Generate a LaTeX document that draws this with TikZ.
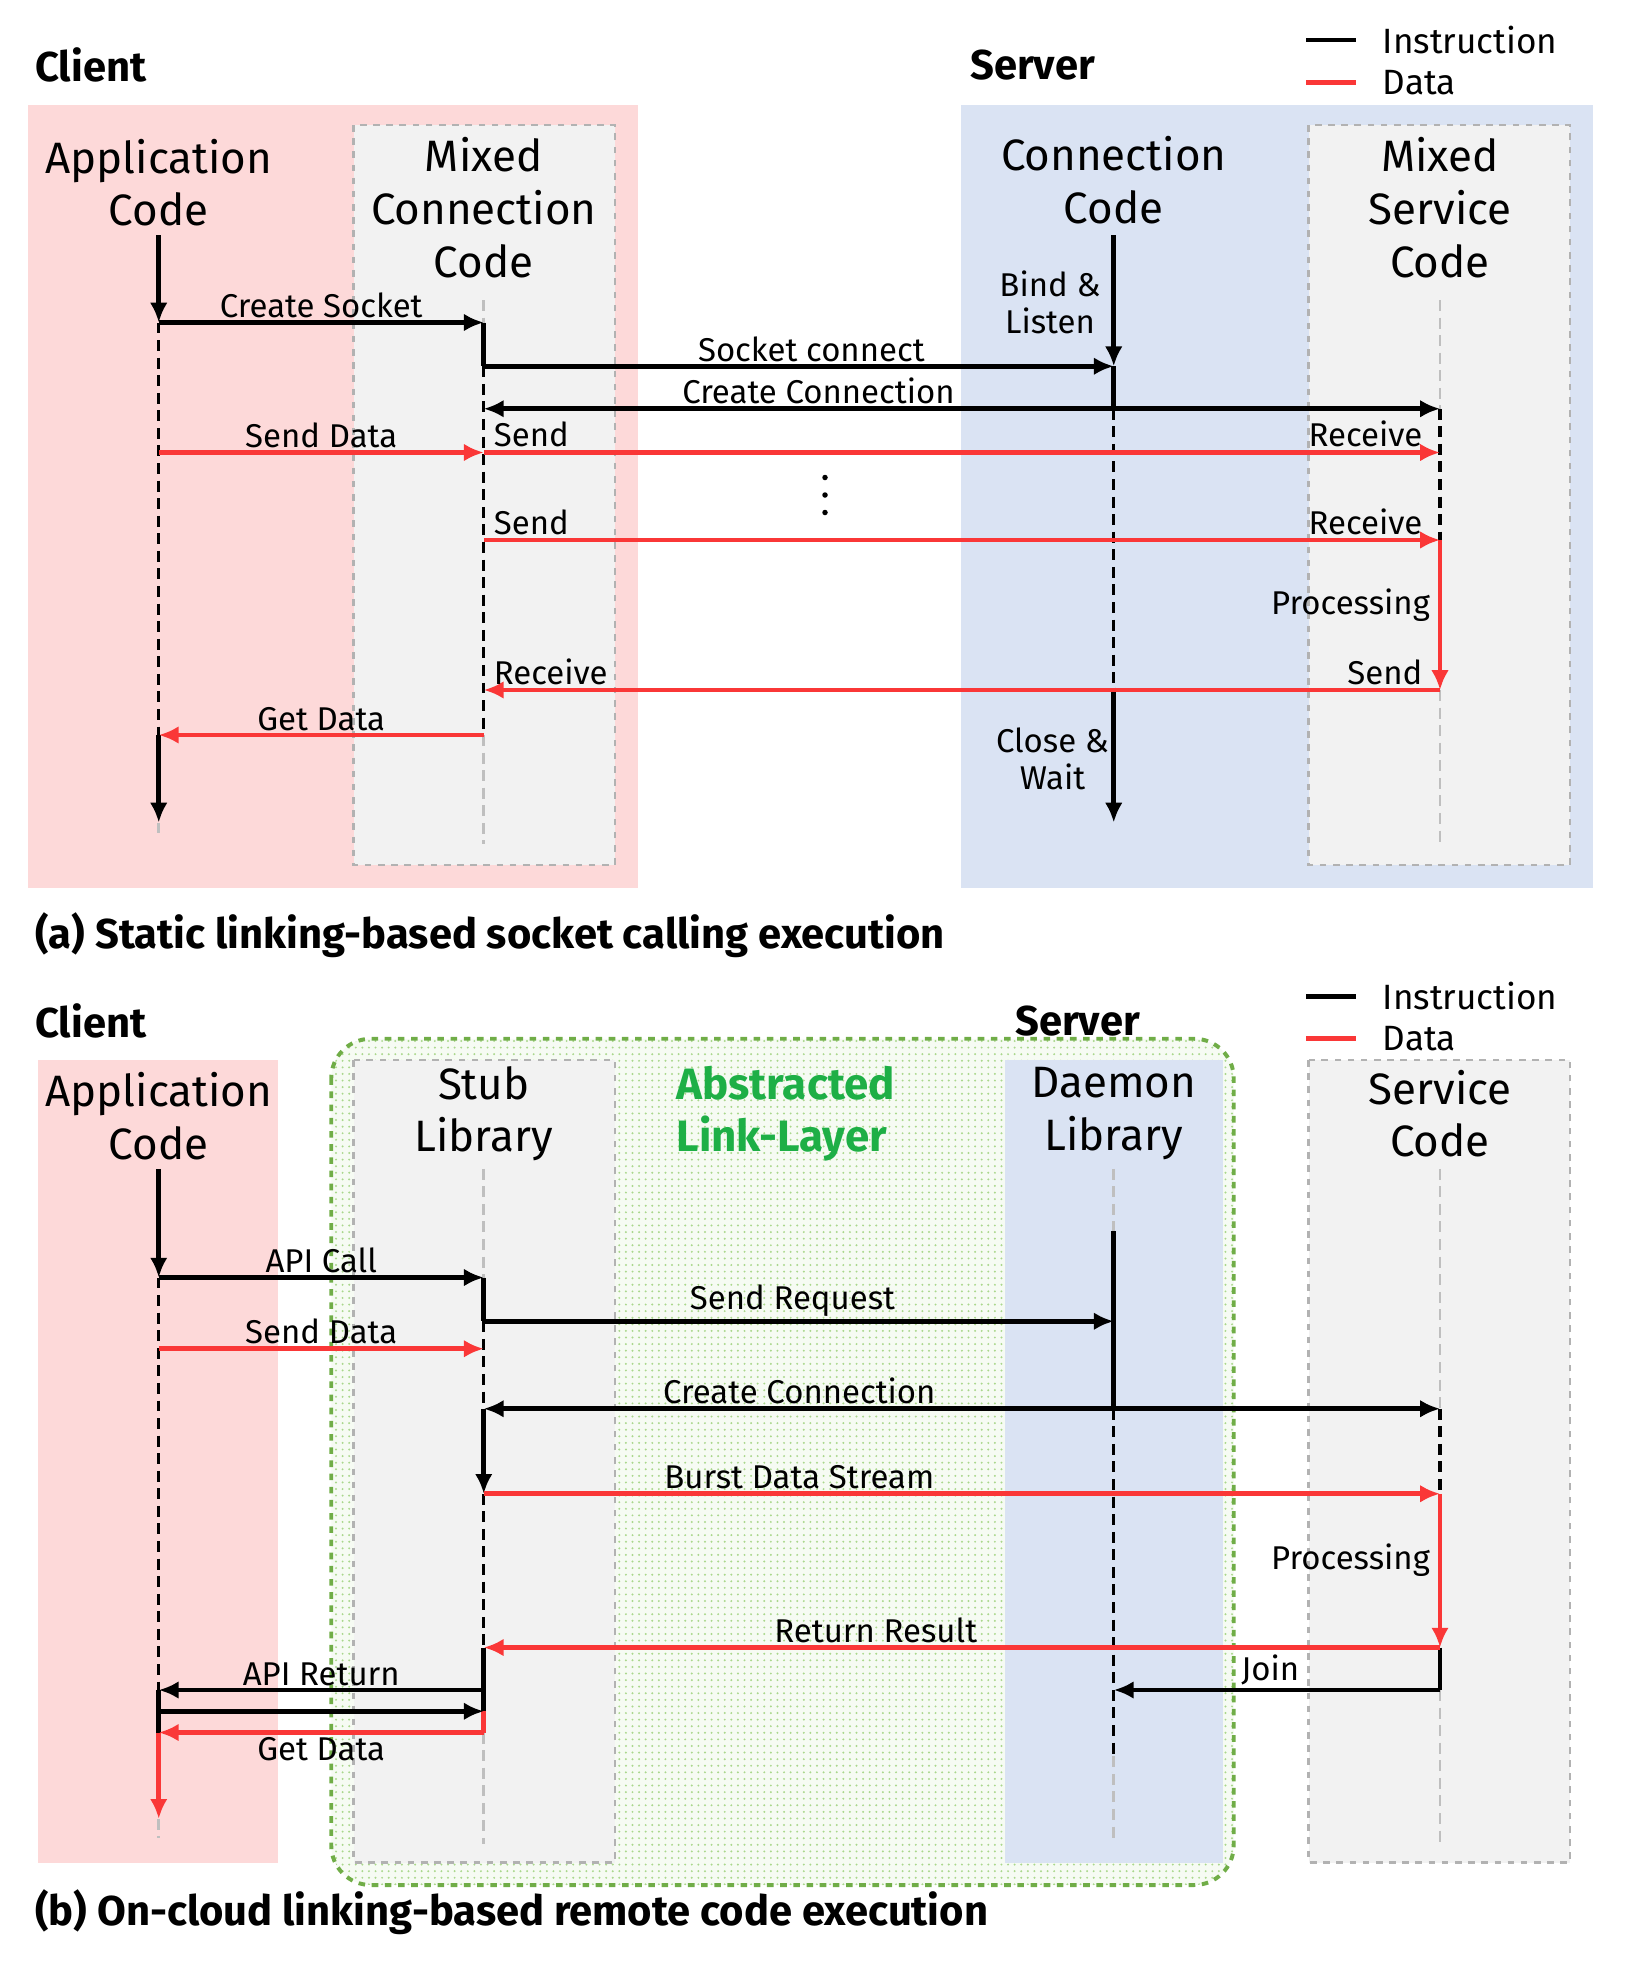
\documentclass[tikz,border=0pt]{standalone}
\usepackage{fontspec}
\setmainfont{Fira Sans}
\usetikzlibrary{arrows.meta,patterns}
\definecolor{clientpink}{RGB}{253,217,217}
\definecolor{serverblue}{RGB}{218,227,243}
\definecolor{boxgray}{RGB}{242,242,242}
\definecolor{datared}{RGB}{250,55,55}
\definecolor{linkgreen}{RGB}{246,251,243}
\definecolor{dotgreen}{RGB}{170,215,140}
\definecolor{edgegreen}{RGB}{112,173,71}
\definecolor{abstgreen}{RGB}{30,175,70}
\tikzset{
  lbl/.style      = {font=\fontsize{20}{24}\selectfont, align=center},
  msg/.style      = {font=\fontsize{15}{17}\selectfont, inner sep=1pt},
  head/.style     = {font=\fontsize{19}{22}\selectfont\bfseries, anchor=west},
  caption/.style  = {font=\fontsize{19}{22}\selectfont\bfseries, anchor=west},
  mixbox/.style   = {draw=gray!60, dashed, fill=boxgray, line width=1.2pt},
  instr/.style    = {draw=black, line width=2.2pt, -{Latex[length=9pt,width=8pt]}},
  both/.style     = {instr, {Latex[length=9pt,width=8pt]}-{Latex[length=9pt,width=8pt]}},
  data/.style     = {instr, draw=datared},
  life/.style     = {line width=1.5pt, dash pattern=on 5pt off 3pt},
  idle/.style     = {line width=1.3pt, draw=gray!50, dash pattern=on 5pt off 3pt},
  solidl/.style   = {line width=2.2pt}
}
\begin{document}
\begin{tikzpicture}[x=0.02cm,y=-0.02cm]
\useasboundingbox (0,0) rectangle (1300,1576);
% ---------- (a) ----------
\fill[clientpink] (22,84) rectangle (510,710);
\fill[serverblue] (769,84) rectangle (1274,710);
\path[mixbox] (283,100) rectangle (492,692);
\path[mixbox] (1047,100) rectangle (1256,692);
\node[head] (clientA) at (22,52) {Client};
\node[head] (serverA) at (770,52) {Server};
\node[lbl] (appA) at (127,146) {Application\\Code};
\node[lbl] (mixA) at (387,166) {Mixed\\Connection\\Code};
\node[lbl] (conA) at (891,144) {Connection\\Code};
\node[lbl] (srvA) at (1152,166) {Mixed\\Service\\Code};
% legend
\coordinate (lgA1) at (1045,32); \coordinate (lgA2) at (1085,32);
\coordinate (lgA3) at (1045,66); \coordinate (lgA4) at (1085,66);
\draw[solidl] (lgA1) -- (lgA2);
\draw[solidl, datared] (lgA3) -- (lgA4);
\node[lbl, anchor=west, font=\fontsize{16}{18}\selectfont] at (1100,32) {Instruction};
\node[lbl, anchor=west, font=\fontsize{16}{18}\selectfont] at (1100,66) {Data};
% lifeline points
\foreach \y in {188,258,362,588,658,668} \coordinate (a\y) at (127,\y);
\foreach \y in {240,258,293,327,362,432,552,588,675} \coordinate (m\y) at (387,\y);
\foreach \y in {188,293,327,550,658} \coordinate (c\y) at (891,\y);
\foreach \y in {240,327,362,432,552,675} \coordinate (s\y) at (1152,\y);
% lifelines
\draw[instr] (a188) -- (a258);
\draw[life] (a258) -- (a588);
\draw[instr] (a588) -- (a658);
\draw[idle] (a658) -- (a668);
\draw[idle] (m240) -- (m258);
\draw[solidl] (m258) -- (m293);
\draw[life] (m293) -- (m588);
\draw[idle] (m588) -- (m675);
\draw[instr] (c188) -- (c293);
\draw[solidl] (c293) -- (c327);
\draw[life] (c327) -- (c550);
\draw[instr] (c550) -- (c658);
\draw[idle] (s240) -- (s327);
\draw[life] (s327) -- (s432);
\draw[data] (s432) -- (s552);
\draw[idle] (s552) -- (s675);
% messages
\draw[instr] (a258) -- node[msg, above] {Create Socket} (m258);
\draw[instr] (m293) -- node[msg, above, pos=0.52] {Socket connect} (c293);
\draw[both] (m327) -- node[msg, above, pos=0.35] {Create Connection} (s327);
\draw[data] (a362) -- node[msg, above] {Send Data} (m362);
\draw[data] (m362) -- (s362);
\draw[data] (m432) -- (s432);
\draw[data] (s552) -- (m552);
\draw[data] (m588) -- node[msg, above] {Get Data} (a588);
\node[msg, anchor=south west] (sendA1) at (393,360) {Send};
\node[msg, anchor=south east] (recvA1) at (1140,360) {Receive};
\node[msg, anchor=south west] (sendA2) at (393,430) {Send};
\node[msg, anchor=south east] (recvA2) at (1140,430) {Receive};
\node[msg, anchor=south west] (recvA3) at (393,550) {Receive};
\node[msg, anchor=south east] (sendA3) at (1140,550) {Send};
\node[msg, anchor=east] (procA) at (1146,484) {Processing};
\node[msg, align=center] (bindA) at (840,242) {Bind \&\\Listen};
\node[msg, align=center] (closeA) at (842,607) {Close \&\\Wait};
\foreach \y in {382,396,410} \fill (660,\y) circle (2.2);
\node[caption] (capA) at (22,748) {(a) Static linking-based socket calling execution};
% ---------- (b) ----------
\fill[clientpink] (30,848) rectangle (222,1490);
\path[rounded corners=18, fill=linkgreen] (265,831) rectangle (987,1508);
\path[rounded corners=18, pattern=dots, pattern color=dotgreen] (265,831) rectangle (987,1508);
\path[draw=edgegreen, dashed, line width=1.8pt, rounded corners=18] (265,831) rectangle (987,1508);
\path[mixbox] (283,848) rectangle (492,1490);
\fill[serverblue] (804,848) rectangle (978,1490);
\path[mixbox] (1047,848) rectangle (1256,1490);
\node[head] (clientB) at (22,817) {Client};
\node[head] (serverB) at (806,817) {Server};
\node[lbl] (appB) at (127,893) {Application\\Code};
\node[lbl] (stubB) at (387,891) {Stub\\Library};
\node[lbl, text=abstgreen, font=\fontsize{20}{24}\selectfont\bfseries, align=left, anchor=west] (linkB) at (535,891) {Abstracted\\Link-Layer};
\node[lbl] (daemonB) at (891,891) {Daemon\\Library};
\node[lbl] (srvB) at (1152,891) {Service\\Code};
% legend
\coordinate (lgB1) at (1045,797); \coordinate (lgB2) at (1085,797);
\coordinate (lgB3) at (1045,831); \coordinate (lgB4) at (1085,831);
\draw[solidl] (lgB1) -- (lgB2);
\draw[solidl, datared] (lgB3) -- (lgB4);
\node[lbl, anchor=west, font=\fontsize{16}{18}\selectfont] at (1100,797) {Instruction};
\node[lbl, anchor=west, font=\fontsize{16}{18}\selectfont] at (1100,831) {Data};
% lifeline points
\foreach \y in {935,1022,1079,1352,1369,1386,1455,1470} \coordinate (b\y) at (127,\y);
\foreach \y in {935,1022,1057,1079,1127,1195,1318,1352,1369,1386,1475} \coordinate (t\y) at (387,\y);
\foreach \y in {935,985,1057,1127,1352,1405,1475} \coordinate (d\y) at (891,\y);
\foreach \y in {935,1127,1195,1318,1352,1475} \coordinate (v\y) at (1152,\y);
% lifelines
\draw[instr] (b935) -- (b1022);
\draw[life] (b1022) -- (b1352);
\draw[solidl] (b1352) -- (b1386);
\draw[data] (b1386) -- (b1455);
\draw[idle] (b1455) -- (b1470);
\draw[idle] (t935) -- (t1022);
\draw[solidl] (t1022) -- (t1057);
\draw[life] (t1057) -- (t1127);
\draw[instr] (t1127) -- (t1195);
\draw[life] (t1195) -- (t1318);
\draw[solidl] (t1318) -- (t1369);
\draw[solidl, datared] (t1369) -- (t1386);
\draw[idle] (t1386) -- (t1475);
\draw[idle] (d935) -- (d985);
\draw[solidl] (d985) -- (d1127);
\draw[life] (d1127) -- (d1405);
\draw[idle] (d1405) -- (d1475);
\draw[idle] (v935) -- (v1127);
\draw[life] (v1127) -- (v1195);
\draw[data] (v1195) -- (v1318);
\draw[solidl] (v1318) -- (v1352);
\draw[idle] (v1352) -- (v1475);
% messages
\draw[instr] (b1022) -- node[msg, above] {API Call} (t1022);
\draw[instr] (t1057) -- node[msg, above, pos=0.49] {Send Request} (d1057);
\draw[data] (b1079) -- node[msg, above] {Send Data} (t1079);
\draw[both] (t1127) -- node[msg, above, pos=0.33] {Create Connection} (v1127);
\draw[data] (t1195) -- node[msg, above, pos=0.33] {Burst Data Stream} (v1195);
\node[msg, anchor=east] (procB) at (1146,1248) {Processing};
\draw[data] (v1318) -- node[msg, above, pos=0.59] {Return Result} (t1318);
\draw[instr] (v1352) -- node[msg, above, pos=0.52] {Join} (d1352);
\draw[instr] (t1352) -- node[msg, above] {API Return} (b1352);
\draw[instr] (b1369) -- (t1369);
\draw[data] (t1386) -- node[msg, below] {Get Data} (b1386);
\node[caption] (capB) at (22,1530) {(b) On-cloud linking-based remote code execution};
\end{tikzpicture}
\end{document}
